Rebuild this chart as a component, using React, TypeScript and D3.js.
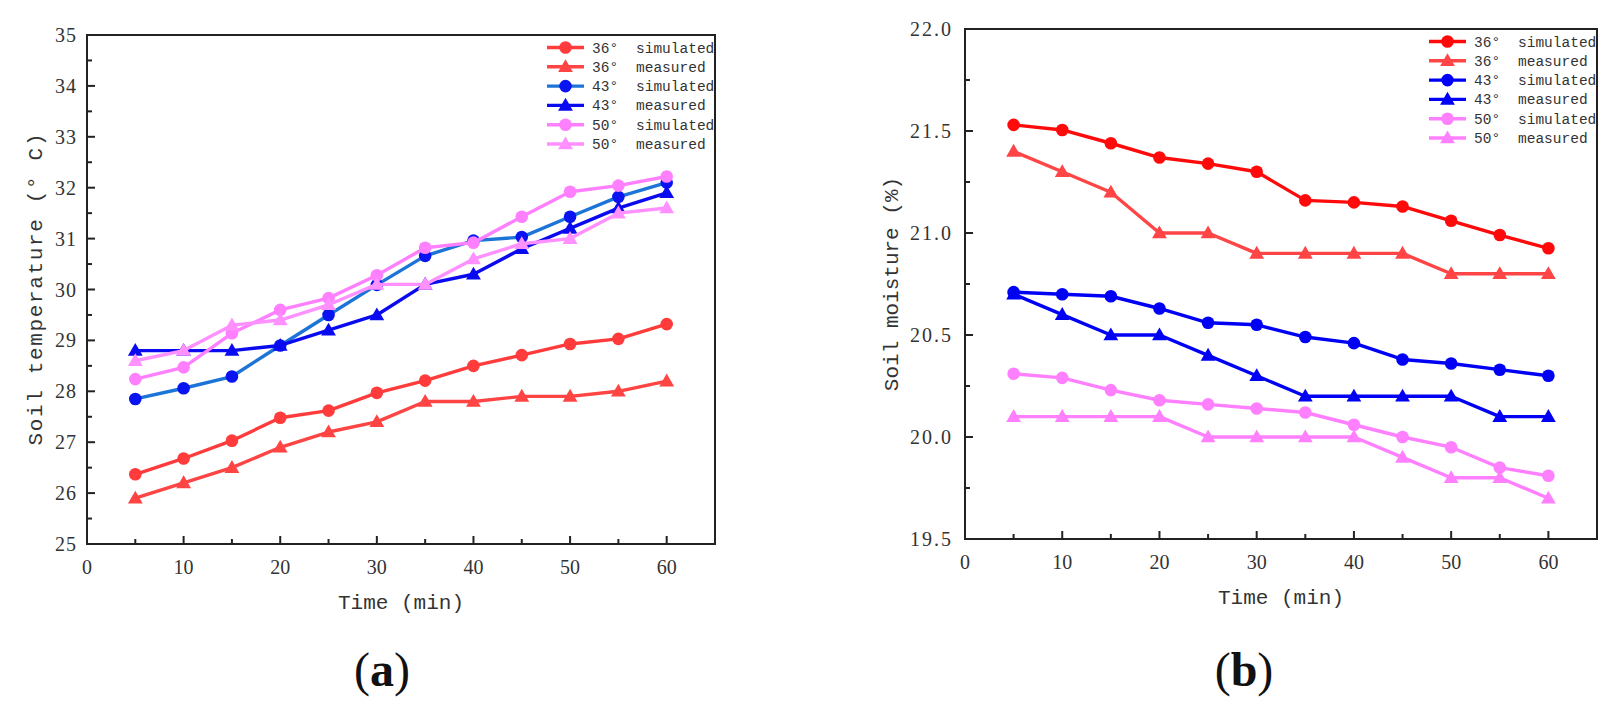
import * as d3 from 'd3';
import { ReactElement } from 'react';

// ─ Data ─────────────────────────────────────────────────────────────────────────────────────────
const times = [5, 10, 15, 20, 25, 30, 35, 40, 45, 50, 55, 60];

const tempSim36 = [26.37, 26.68, 27.03, 27.48, 27.62, 27.97, 28.21, 28.5, 28.71, 28.93, 29.03, 29.32];
const tempMea36 = [25.9, 26.2, 26.5, 26.9, 27.2, 27.4, 27.8, 27.8, 27.9, 27.9, 28.0, 28.2];
const tempSim43 = [27.85, 28.06, 28.29, 28.9, 29.5, 30.09, 30.66, 30.96, 31.03, 31.43, 31.82, 32.1];
const tempMea43 = [28.8, 28.8, 28.8, 28.9, 29.2, 29.5, 30.1, 30.3, 30.8, 31.2, 31.6, 31.9];
const tempSim50 = [28.24, 28.47, 29.14, 29.6, 29.83, 30.28, 30.82, 30.92, 31.43, 31.92, 32.04, 32.22];
const tempMea50 = [28.6, 28.8, 29.3, 29.4, 29.7, 30.1, 30.1, 30.6, 30.9, 31.0, 31.5, 31.6];

const moistSim36 = [21.53, 21.505, 21.44, 21.37, 21.34, 21.3, 21.16, 21.15, 21.13, 21.06, 20.99, 20.925];
const moistMea36 = [21.4, 21.3, 21.2, 21.0, 21.0, 20.9, 20.9, 20.9, 20.9, 20.8, 20.8, 20.8];
const moistSim43 = [20.71, 20.7, 20.69, 20.63, 20.56, 20.55, 20.49, 20.46, 20.38, 20.36, 20.33, 20.3];
const moistMea43 = [20.7, 20.6, 20.5, 20.5, 20.4, 20.3, 20.2, 20.2, 20.2, 20.2, 20.1, 20.1];
const moistSim50 = [20.31, 20.29, 20.23, 20.18, 20.16, 20.14, 20.12, 20.06, 20.0, 19.95, 19.85, 19.81];
const moistMea50 = [20.1, 20.1, 20.1, 20.1, 20.0, 20.0, 20.0, 20.0, 19.9, 19.8, 19.8, 19.7];

const seriesAngles = ['36°', '36°', '43°', '43°', '50°', '50°'];
const seriesKinds = ['simulated', 'measured', 'simulated', 'measured', 'simulated', 'measured'];

const xTickLabels = ['0', '10', '20', '30', '40', '50', '60'];
const tempTickLabels = ['25', '26', '27', '28', '29', '30', '31', '32', '33', '34', '35'];
const moistTickLabels = ['19.5', '20.0', '20.5', '21.0', '21.5', '22.0'];

// ─ Types ────────────────────────────────────────────────────────────────────────────────────────
interface Series {
  values: number[];
  line: string;
  marker: string;
  shape: 'circle' | 'triangle';
}

interface PanelProps {
  left: number;
  top: number;
  right: number;
  bottom: number;
  yDomain: [number, number];
  yMinorStep: number;
  yTickLabels: string[];
  yLabelGap: number;
  yTitle: string;
  yTitleX: number;
  yTitleLength?: number;
  series: Series[];
}

const AXIS = '#222';
const TEXT = '#333';
const SERIF = '"Liberation Serif", "Times New Roman", serif';
const MONO = '"Liberation Mono", "DejaVu Sans Mono", monospace';

const triangle = d3.symbol(d3.symbolTriangle, 95)() || '';

const Marker = ({ x, y, s }: { x: number; y: number; s: Series }): ReactElement =>
  s.shape === 'circle'
    ? <circle cx={x} cy={y} r={6.3} fill={s.marker} />
    : <path d={triangle} transform={`translate(${x},${y + 1})`} fill={s.marker} />;

const Panel = (p: PanelProps): ReactElement => {
  const x = d3.scaleLinear().domain([0, 65]).range([p.left, p.right]);
  const y = d3.scaleLinear().domain(p.yDomain).range([p.bottom, p.top]);

  const line = d3.line<number>()
    .x((_, i) => x(times[i]))
    .y(d => y(d));

  const xMinor = d3.range(5, 65, 10);
  const yMinor = d3.range(p.yDomain[0] + p.yMinorStep, p.yDomain[1], p.yMinorStep * 2);

  return (
    <g>
      {/* Series */}
      {p.series.map((s, k) => (
        <g key={k}>
          <path d={line(s.values) || ''} fill="none" stroke={s.line} strokeWidth={3.4} strokeLinejoin="round" />
          {s.values.map((v, i) => <Marker key={i} x={x(times[i])} y={y(v)} s={s} />)}
        </g>
      ))}

      {/* Frame */}
      <rect x={p.left} y={p.top} width={p.right - p.left} height={p.bottom - p.top}
        fill="none" stroke={AXIS} strokeWidth={2} />

      {/* X ticks */}
      {xTickLabels.map(t => {
        const xv = x(+t);
        return (
          <g key={t}>
            {+t > 0 && <line x1={xv} x2={xv} y1={p.bottom} y2={p.bottom - 8} stroke={AXIS} strokeWidth={2} />}
            <text x={xv} y={p.bottom + 30} textAnchor="middle" fontFamily={SERIF} fontSize={20} fill={TEXT}>{t}</text>
          </g>
        );
      })}
      {xMinor.map(t => (
        <line key={t} x1={x(t)} x2={x(t)} y1={p.bottom} y2={p.bottom - 5} stroke={AXIS} strokeWidth={2} />
      ))}

      {/* Y ticks */}
      {p.yTickLabels.map(t => {
        const yv = y(+t);
        return (
          <g key={t}>
            <line x1={p.left} x2={p.left + 8} y1={yv} y2={yv} stroke={AXIS} strokeWidth={2} />
            <text x={p.left - p.yLabelGap} y={yv + 7} textAnchor="end" fontFamily={SERIF} fontSize={20}
              fill={TEXT} letterSpacing={t.includes('.') ? 2 : 1}>{t}</text>
          </g>
        );
      })}
      {yMinor.map(t => (
        <line key={t} x1={p.left} x2={p.left + 5} y1={y(t)} y2={y(t)} stroke={AXIS} strokeWidth={2} />
      ))}

      {/* Axis titles */}
      <text x={(p.left + p.right) / 2} y={p.bottom + 65} textAnchor="middle" fontFamily={MONO}
        fontSize={21} fill={TEXT}>Time (min)</text>
      <text transform={`translate(${p.yTitleX},${(p.top + p.bottom) / 2}) rotate(-90)`} textAnchor="middle"
        dominantBaseline="central" fontFamily={MONO} fontSize={21} fill={TEXT}
        textLength={p.yTitleLength} lengthAdjust="spacing">{p.yTitle}</text>

      {/* Legend */}
      {p.series.map((s, k) => {
        const ly = p.top + 12.5 + k * 19.3;
        const lx0 = p.right - 168;
        const lx1 = p.right - 131;
        return (
          <g key={k}>
            <line x1={lx0} x2={lx1} y1={ly} y2={ly} stroke={s.line} strokeWidth={3.4} />
            <Marker x={(lx0 + lx1) / 2} y={ly} s={s} />
            <text x={p.right - 123} y={ly + 5} fontFamily={MONO} fontSize={14.5} fill={TEXT}>{seriesAngles[k]}</text>
            <text x={p.right - 79} y={ly + 5} fontFamily={MONO} fontSize={14.5} fill={TEXT}>{seriesKinds[k]}</text>
          </g>
        );
      })}
    </g>
  );
};

const tempSeries: Series[] = [
  { values: tempSim36, line: '#FF3B3B', marker: '#FF3B3B', shape: 'circle' },
  { values: tempMea36, line: '#FF4444', marker: '#FF4444', shape: 'triangle' },
  { values: tempSim43, line: '#1C74D6', marker: '#0A14F0', shape: 'circle' },
  { values: tempMea43, line: '#0A0AF0', marker: '#0A0AF0', shape: 'triangle' },
  { values: tempSim50, line: '#FF80FF', marker: '#FF80FF', shape: 'circle' },
  { values: tempMea50, line: '#FF90FF', marker: '#FF90FF', shape: 'triangle' },
];

const moistSeries: Series[] = [
  { values: moistSim36, line: '#FF0A0A', marker: '#FF0A0A', shape: 'circle' },
  { values: moistMea36, line: '#FF4545', marker: '#FF4545', shape: 'triangle' },
  { values: moistSim43, line: '#0000F5', marker: '#0000F5', shape: 'circle' },
  { values: moistMea43, line: '#0000F5', marker: '#0000F5', shape: 'triangle' },
  { values: moistSim50, line: '#FF80FF', marker: '#FF80FF', shape: 'circle' },
  { values: moistMea50, line: '#FF80FF', marker: '#FF80FF', shape: 'triangle' },
];

export default function App(): ReactElement {
  return (
    <div style={{ position: 'absolute', left: 0, top: 0 }}>
      <svg width={1619} height={712} style={{ display: 'block', background: '#fff' }}>
        <Panel left={87} top={35} right={715} bottom={544} yDomain={[25, 35]} yMinorStep={0.5}
          yTickLabels={tempTickLabels} yLabelGap={10} yTitle="Soil temperature (° C)" yTitleX={36}
          yTitleLength={312} series={tempSeries} />
        <Panel left={965} top={29} right={1597} bottom={539} yDomain={[19.5, 22]} yMinorStep={0.25}
          yTickLabels={moistTickLabels} yLabelGap={12} yTitle="Soil moisture (%)" yTitleX={892}
          series={moistSeries} />

        <text x={382} y={686} textAnchor="middle" fontFamily={SERIF} fontSize={48} fill="#111">
          (<tspan fontWeight="bold">a</tspan>)
        </text>
        <text x={1244} y={686} textAnchor="middle" fontFamily={SERIF} fontSize={48} fill="#111">
          (<tspan fontWeight="bold">b</tspan>)
        </text>
      </svg>
    </div>
  );
}
